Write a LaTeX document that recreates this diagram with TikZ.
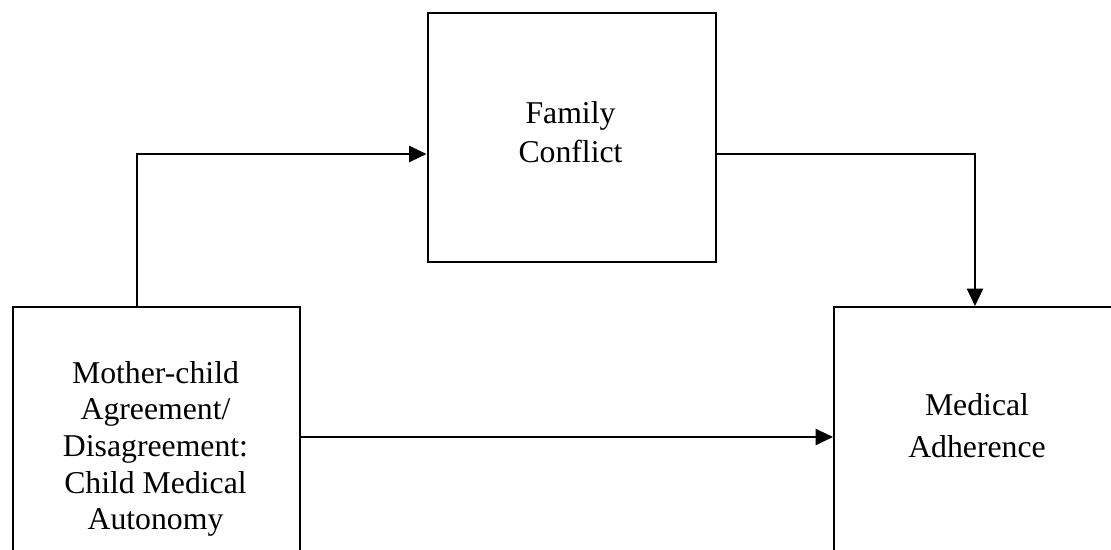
\documentclass[tikz,border=0pt]{standalone}
\usepackage{fontspec}
\setmainfont{Liberation Serif}
\usetikzlibrary{arrows.meta}
\begin{document}
\begin{tikzpicture}[x=0.75pt,y=-0.75pt,
  box/.style={draw=black,line width=1.5pt,fill=none,inner sep=0pt,anchor=north west},
  lbl/.style={inner sep=0pt,align=center},
  conn/.style={line width=1.7pt},
  arr/.style={conn,-{Triangle[length=13pt,width=12pt]}}]
\useasboundingbox (0,0) rectangle (1111,550);
\begin{scope}
\clip (0,0) rectangle (1111,550);
\node[box,minimum width=287*0.75pt,minimum height=314*0.75pt] (mcb) at (12,306) {};
\node[box,minimum width=297*0.75pt,minimum height=314*0.75pt] (mab) at (833,306) {};
\end{scope}
\node[box,minimum width=288*0.75pt,minimum height=249*0.75pt] (fc) at (426.5,12) {};
\coordinate (mcaR) at (299,437);
\coordinate (maL) at (833,437);
\coordinate (maT) at (975,306);
\coordinate (fcL) at (426.5,154);
\coordinate (fcR) at (714.5,154);
\node[lbl,font=\fontsize{23.8}{29.25}\selectfont] (fct) at (570.5,132) {Family\\Conflict};
\node[lbl,font=\fontsize{23.8}{27.5}\selectfont] (mct) at (155.5,449) {Mother-child\\Agreement/\\Disagreement:\\Child Medical\\Autonomy};
\node[lbl,font=\fontsize{23.8}{31.5}\selectfont] (mat) at (977,426) {Medical\\Adherence};
\coordinate (up) at (137,306);
\draw[arr] (up) |- (fcL);
\draw[arr] (fcR) -| (maT);
\draw[arr] (mcaR) -- (maL);
\end{tikzpicture}
\end{document}
